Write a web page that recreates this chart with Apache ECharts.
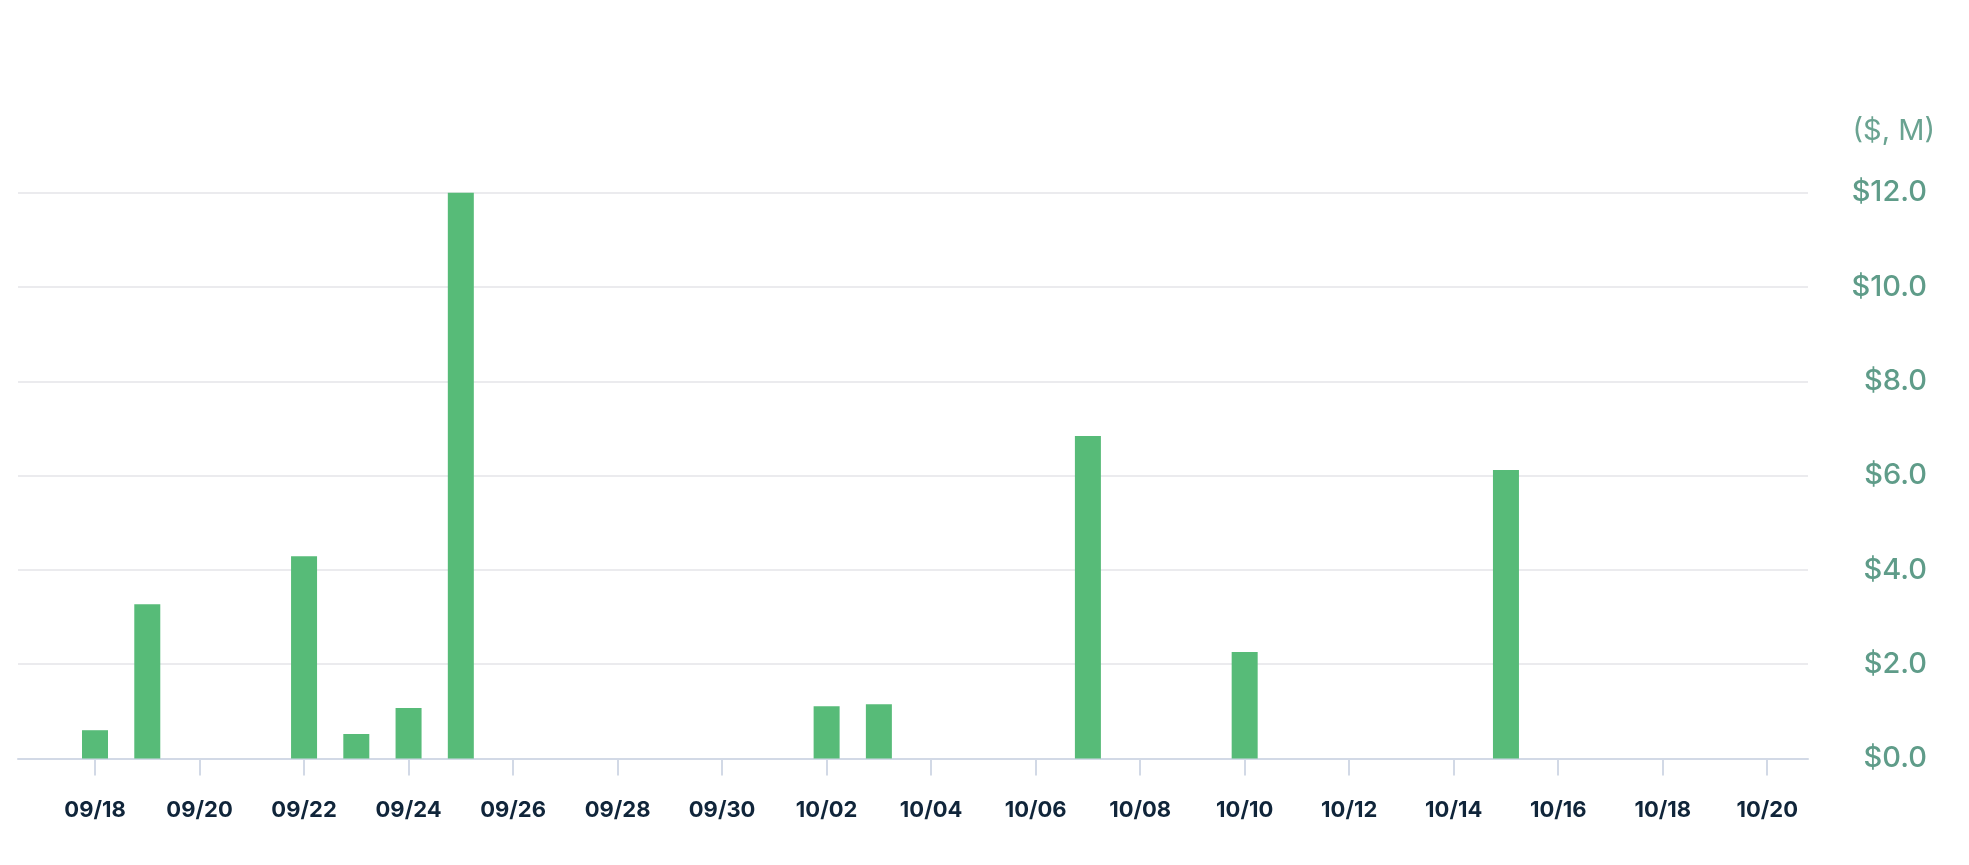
<!DOCTYPE html>
<html>
<head>
<meta charset="utf-8">
<script src="https://cdn.jsdelivr.net/npm/echarts@6/dist/echarts.min.js"></script>
<style>
html,body{margin:0;padding:0;background:#fff;}
#chart{width:1969px;height:865px;}
</style>
</head>
<body>
<div id="chart"></div>
<script>
const days = ['09/18','09/19','09/20','09/21','09/22','09/23','09/24','09/25','09/26','09/27','09/28','09/29','09/30',
  '10/01','10/02','10/03','10/04','10/05','10/06','10/07','10/08','10/09','10/10','10/11','10/12','10/13','10/14',
  '10/15','10/16','10/17','10/18','10/19','10/20'];
const amounts = [0.60, 3.27, 0, 0, 4.29, 0.52, 1.07, 12.0, 0, 0, 0, 0, 0,
  0, 1.11, 1.15, 0, 0, 0, 6.84, 0, 0, 2.26, 0, 0, 0, 0,
  6.12, 0, 0, 0, 0, 0];
const tickLabels = ['09/18','09/20','09/22','09/24','09/26','09/28','09/30','10/02','10/04','10/06','10/08','10/10','10/12','10/14','10/16','10/18','10/20'];
const yTicks = [0, 2, 4, 6, 8, 10, 12];
const yUnit = '($, M)';

const tickIdx = tickLabels.map(t => days.indexOf(t));
const barData = amounts.map((v, i) => [i, v]);

const chart = echarts.init(document.getElementById('chart'), null, {renderer: 'canvas'});
chart.setOption({
  animation: false,
  backgroundColor: '#ffffff',
  title: {
    text: yUnit,
    right: 29,
    top: 112,
    textStyle: {fontFamily: 'Inter', fontSize: 29, fontWeight: 400, color: '#6aa391'}
  },
  grid: {left: 18, right: 161, top: 192.7, bottom: 106.5, containLabel: false},
  xAxis: {
    type: 'value',
    min: -1.474,
    max: 32.78,
    splitLine: {show: false},
    axisLine: {show: true, lineStyle: {color: '#d2d9e6', width: 2}},
    axisTick: {show: true, customValues: tickIdx, length: 17, lineStyle: {color: '#d2d9e6', width: 2}},
    axisLabel: {
      customValues: tickIdx,
      margin: 41,
      formatter: v => days[Math.round(v)],
      fontFamily: 'Inter', fontSize: 22, fontWeight: 700, color: '#10253a'
    }
  },
  yAxis: {
    type: 'value',
    position: 'right',
    min: yTicks[0],
    max: yTicks[yTicks.length - 1],
    interval: 2,
    axisLine: {show: false},
    axisTick: {show: false},
    splitLine: {show: true, lineStyle: {color: '#e4e5e9', width: 1.5}},
    axisLabel: {
      margin: 119,
      align: 'right',
      formatter: v => '$' + v.toFixed(1),
      fontFamily: 'Inter', fontSize: 29, fontWeight: 500, color: '#5f9c89'
    }
  },
  series: [{
    type: 'bar',
    data: barData,
    barWidth: 26,
    itemStyle: {color: '#57bb78'}
  }]
});
</script>
</body>
</html>
